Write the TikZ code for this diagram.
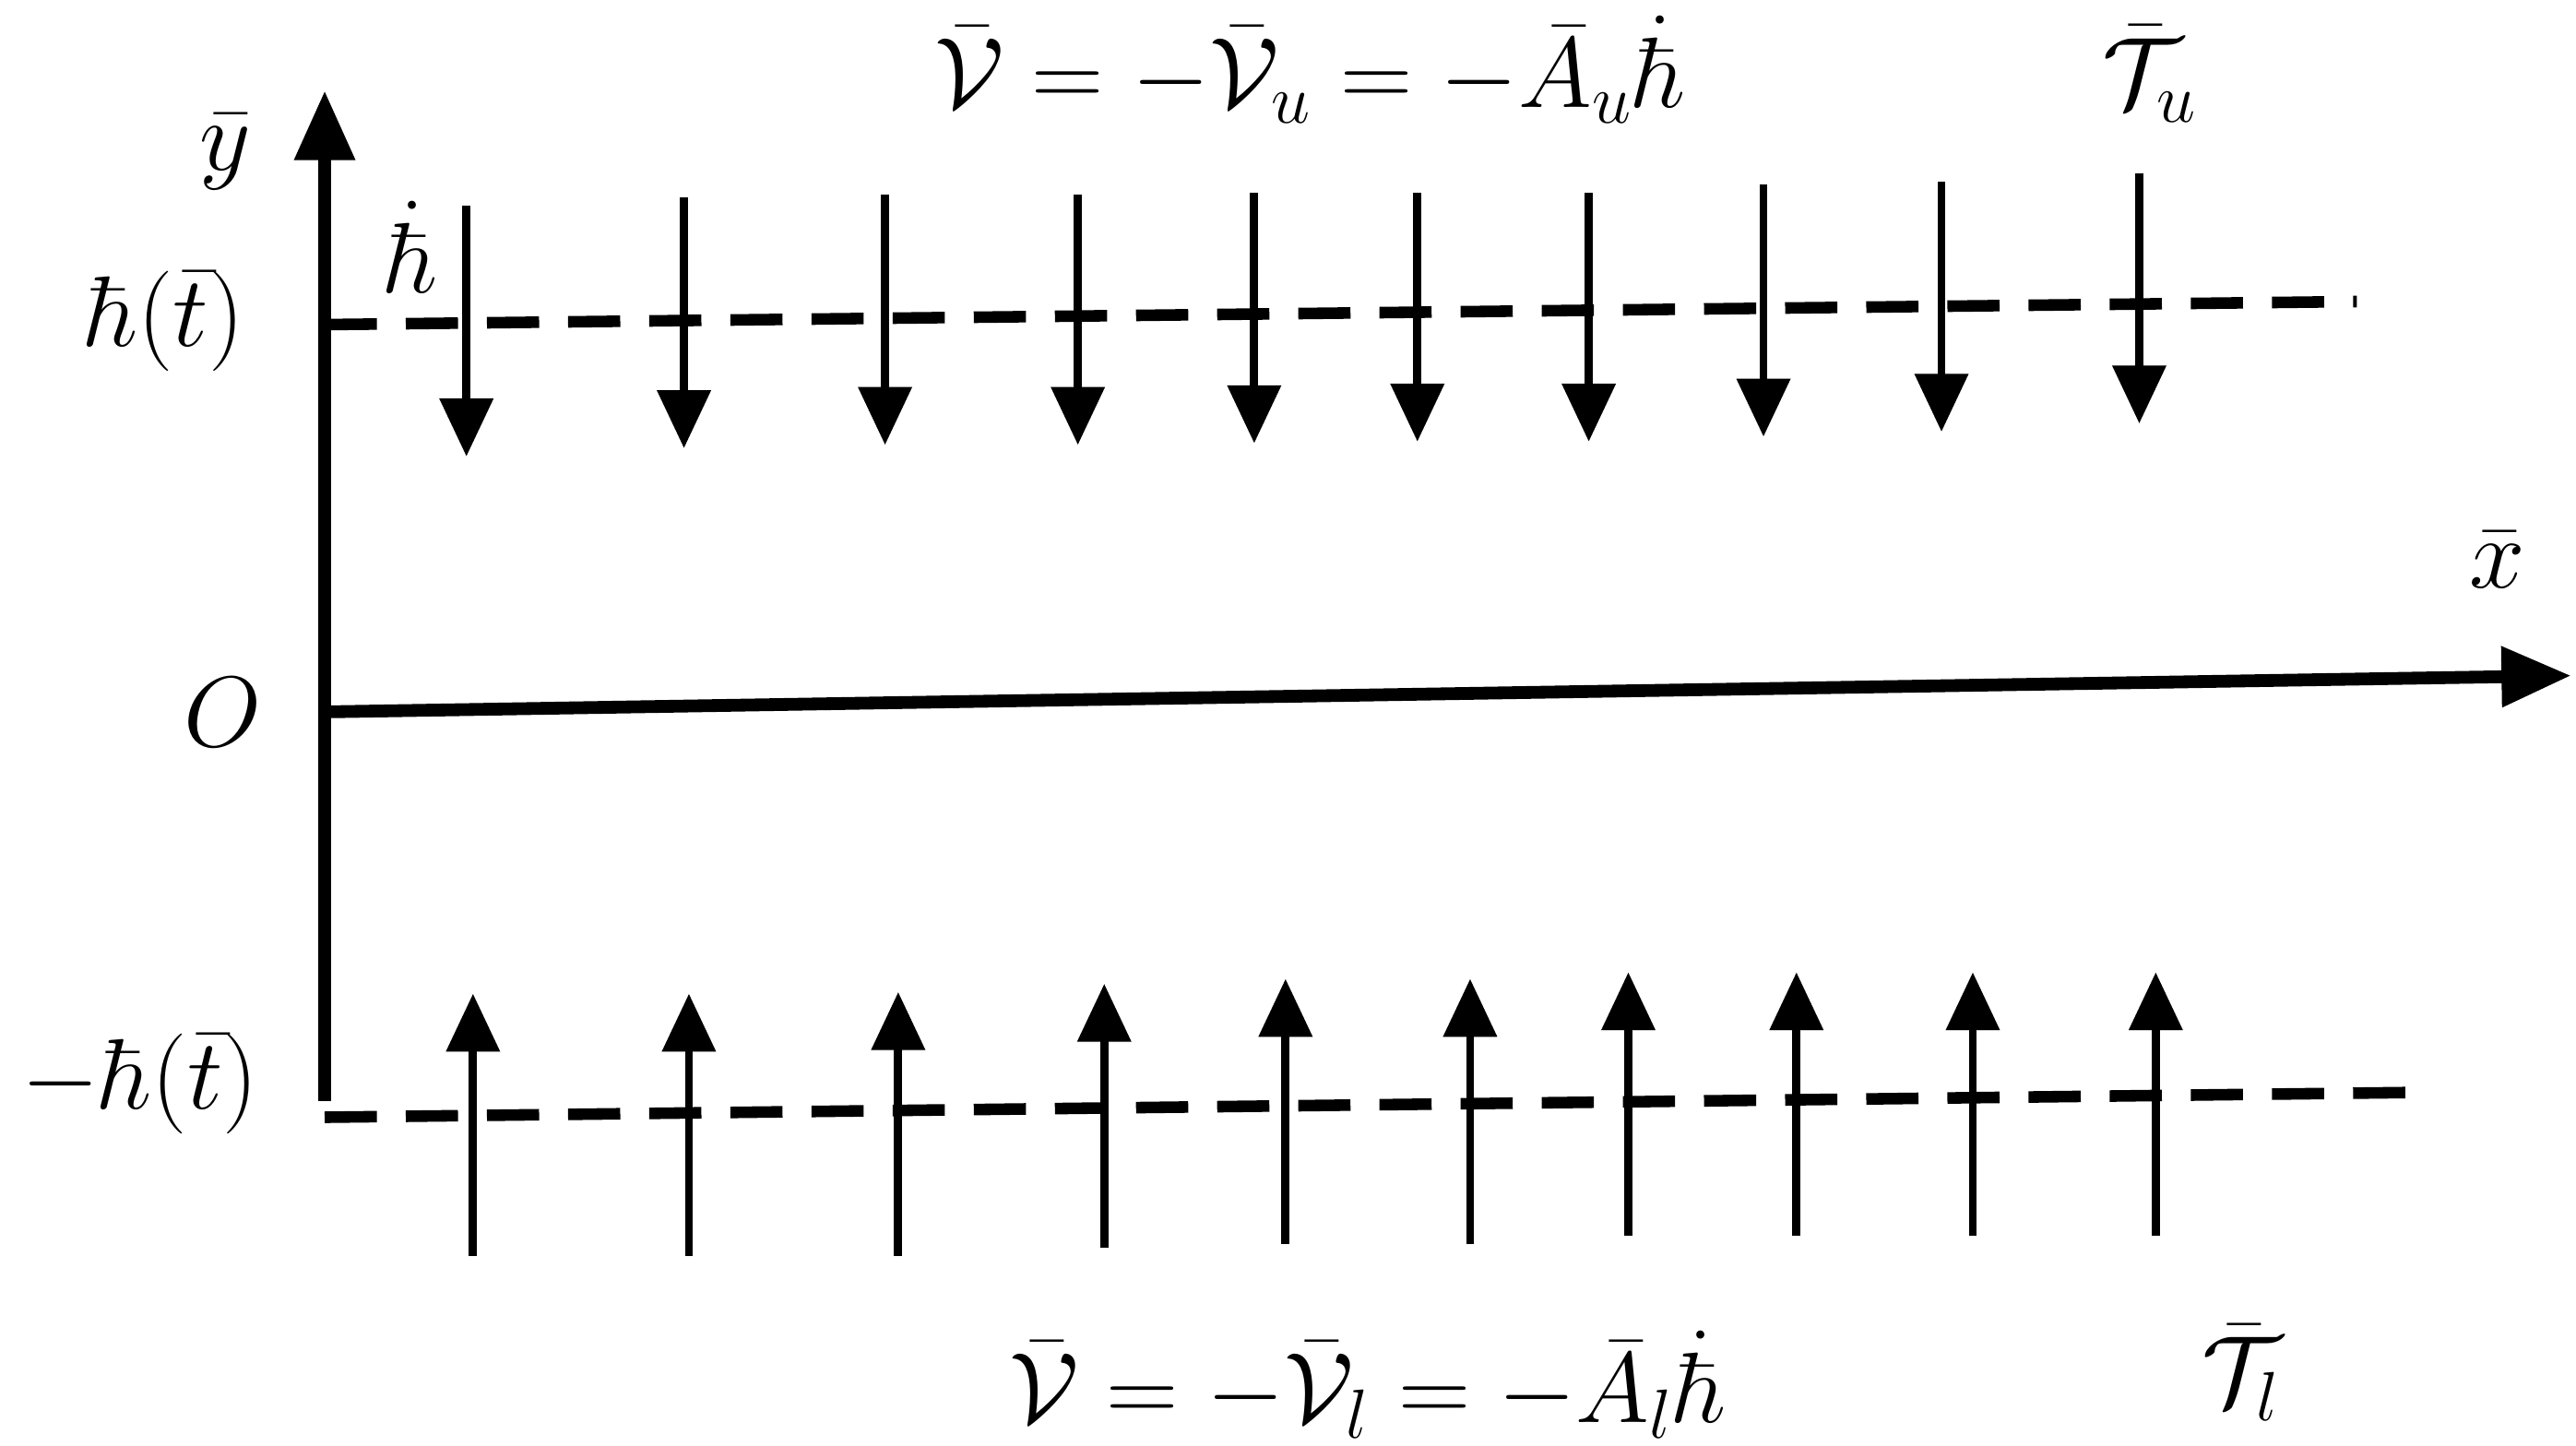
\documentclass[tikz,border=0pt]{standalone}
\usepackage{amsmath}
\usetikzlibrary{arrows.meta}
\begin{document}
\begin{tikzpicture}[x=0.01cm,y=-0.01cm,
  axis/.style={line width=2.2pt,-{Triangle[length=12pt,width=10pt]}},
  dashline/.style={line width=2pt,dash pattern=on 9pt off 5pt},
  flow/.style={line width=1.4pt,-{Triangle[length=10pt,width=9pt]}},
  lab/.style={font=\fontsize{18}{22}\selectfont}]
\useasboundingbox (0,0) rectangle (1563,877);
\coordinate (ob) at (197,668); \coordinate (yt) at (197,55);
\coordinate (ox) at (197,432); \coordinate (xt) at (1560,410);
\draw[axis] (ob) -- (yt);
\draw[axis] (ox) -- (xt);
\coordinate (u1) at (197,197); \coordinate (u2) at (1430,183);
\coordinate (l1) at (197,678); \coordinate (l2) at (1460,663);
\draw[dashline] (u1) -- (u2);
\draw[dashline] (l1) -- (l2);
\foreach \x/\a/\b in {283/125/277,415/120/272,537/118/270,654/118/270,761/117/269,860/117/268,964/117/268,1070/112/265,1178/110/262,1298/105/257}
  {\coordinate (s\x) at (\x,\a); \coordinate (e\x) at (\x,\b); \draw[flow] (s\x) -- (e\x);}
\foreach \x/\a/\b in {287/762/603,418/762/603,545/762/602,670/757/597,780/755/594,892/755/594,988/750/590,1090/750/590,1197/750/590,1308/750/590}
  {\coordinate (s\x) at (\x,\a); \coordinate (e\x) at (\x,\b); \draw[flow] (s\x) -- (e\x);}
\node[lab] (ly) at (137,92) {$\bar{y}$};
\node[lab] (lhd) at (250,150) {$\dot{\hbar}$};
\node[lab] (lh) at (100,195) {$\hbar(\bar{t})$};
\node[lab] (lo) at (135,432) {$O$};
\node[lab] (lmh) at (85,658) {$-\hbar(\bar{t})$};
\node[lab] (lx) at (1515,340) {$\bar{x}$};
\node[lab] (eu) at (795,42) {$\bar{\mathcal{V}} = -\bar{\mathcal{V}}_u = -\bar{A}_u\dot{\hbar}$};
\node[lab] (tu) at (1305,45) {$\bar{\mathcal{T}}_u$};
\node[lab] (el) at (830,840) {$\bar{\mathcal{V}} = -\bar{\mathcal{V}}_l = -\bar{A}_l\dot{\hbar}$};
\node[lab] (tl) at (1360,833) {$\bar{\mathcal{T}}_l$};
\end{tikzpicture}
\end{document}
